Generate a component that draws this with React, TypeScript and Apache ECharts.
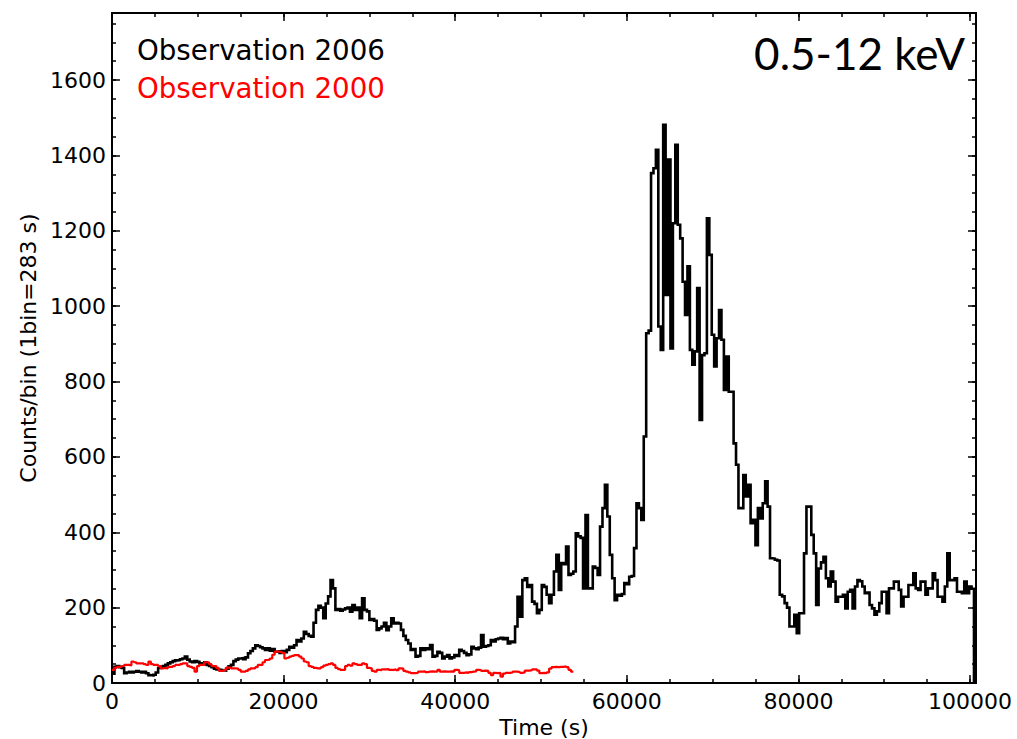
import React, { useEffect, useRef } from "react";
import * as echarts from "echarts";

// Light-curve bin width in seconds
const BIN_SECONDS = 283;

// Counts per bin, observation 2006 (one value per 283 s bin, starting at t = 0)
const obs2006Counts = [
  25, 43, 45, 42, 40, 26, 28, 30, 28, 30,
  32, 30, 28, 30, 26, 21, 20, 22, 28, 40,
  43, 45, 48, 52, 55, 58, 60, 61, 63, 65,
  70, 62, 57, 55, 58, 56, 52, 50, 55, 48,
  45, 42, 38, 36, 35, 34, 33, 38, 44, 48,
  58, 62, 65, 66, 63, 68, 79, 85, 92, 100,
  98, 95, 92, 88, 92, 86, 90, 83, 84, 80,
  85, 82, 88, 96, 94, 100, 114, 110, 118, 136,
  130, 125, 123, 160, 194, 205, 200, 172, 211, 230,
  273, 251, 194, 196, 192, 195, 198, 200, 189, 207,
  194, 200, 172, 225, 194, 190, 167, 170, 165, 141,
  145, 150, 160, 140, 150, 172, 158, 160, 158, 141,
  125, 114, 105, 88, 90, 70, 72, 92, 88, 92,
  90, 101, 70, 72, 83, 80, 65, 70, 74, 65,
  68, 74, 72, 88, 85, 80, 74, 76, 96, 92,
  90, 94, 127, 96, 98, 100, 114, 110, 116, 118,
  120, 116, 119, 105, 110, 108, 150, 229, 176, 273,
  278, 255, 260, 216, 210, 185, 194, 260, 255, 234,
  212, 234, 296, 340, 247, 318, 315, 362, 287, 290,
  296, 397, 389, 385, 251, 446, 251, 251, 309, 305,
  287, 415, 464, 526, 442, 340, 278, 220, 234, 232,
  236, 265, 262, 282, 284, 358, 477, 464, 433, 654,
  928, 935, 1353, 1366, 1415, 946, 884, 1481, 1030, 1389,
  888, 1220, 1428, 1216, 1180, 1065, 977, 1106, 884, 845,
  880, 1048, 698, 870, 875, 1233, 1136, 924, 840, 915,
  990, 911, 778, 866, 773, 773, 636, 579, 464, 464,
  552, 495, 526, 424, 433, 366, 464, 437, 477, 535,
  468, 331, 330, 327, 325, 234, 230, 212, 200, 150,
  150, 181, 132, 185, 185, 344, 468, 468, 393, 344,
  207, 304, 320, 335, 278, 256, 296, 269, 216, 229,
  229, 234, 198, 242, 247, 198, 256, 273, 270, 256,
  238, 240, 207, 198, 181, 190, 212, 242, 242, 185,
  251, 251, 269, 269, 247, 203, 229, 229, 260, 260,
  291, 251, 247, 269, 269, 234, 251, 251, 291, 273,
  229, 229, 216, 256, 344, 273, 273, 278, 242, 242,
  238, 269, 238, 256, 250,
];

// Counts per bin, observation 2000
const obs2000Counts = [
  35, 40, 43, 43, 45, 48, 48, 47, 57, 55,
  52, 52, 52, 50, 48, 57, 50, 48, 48, 45,
  39, 40, 39, 43, 43, 45, 48, 48, 50, 52,
  52, 45, 43, 40, 30, 45, 48, 48, 55, 55,
  50, 45, 45, 40, 32, 32, 35, 41, 41, 39,
  39, 38, 35, 30, 30, 32, 36, 39, 39, 42,
  48, 48, 55, 61, 62, 65, 75, 83, 83, 82,
  80, 65, 67, 70, 72, 74, 74, 70, 65, 57,
  55, 45, 43, 40, 39, 39, 42, 46, 48, 50,
  52, 48, 40, 37, 35, 35, 45, 48, 46, 52,
  50, 48, 48, 52, 50, 40, 39, 32, 30, 35,
  34, 36, 36, 37, 35, 35, 36, 34, 39, 38,
  32, 30, 28, 26, 26, 27, 30, 30, 31, 29,
  30, 31, 30, 30, 35, 30, 31, 30, 30, 31,
  30, 35, 34, 27, 27, 28, 27, 29, 30, 31,
  35, 34, 32, 33, 32, 27, 21, 27, 26, 27,
  17, 25, 27, 27, 28, 30, 30, 29, 27, 28,
  33, 33, 34, 36, 36, 33, 26, 27, 26, 28,
  38, 42, 43, 42, 43, 43, 44, 42, 35, 30,
];

const seriesNames = ["Observation 2006", "Observation 2000"];
const seriesColors = ["#000000", "#ff0000"];
const bandLabel = "0.5-12 keV";

const X_MAX = 100700;
const Y_MAX = 1778;
const X_MAJOR = 20000;
const X_MINOR = 5000;
const Y_MAJOR = 200;
const Y_MINOR = 50;

const FONT = "DejaVu Sans";

// Histogram steps: each value holds from its bin start until the next bin start
function toSteps(counts: number[], dropToZero: boolean): number[][] {
  const pts = counts.map((v, i) => [i * BIN_SECONDS, v]);
  const end = counts.length * BIN_SECONDS;
  pts.push([end, dropToZero ? 0 : counts[counts.length - 1]]);
  return pts;
}

const plainNumber = (v: number) => String(v);

function frameAxis(
  position: string,
  interval: number,
  max: number,
  tickLen: number,
  labelMargin: number | null,
  lineShown: boolean,
  extra: Record<string, unknown> = {}
) {
  return {
    type: "value",
    position,
    min: 0,
    max,
    interval,
    axisLine: { show: lineShown, onZero: false, lineStyle: { color: "#000", width: 2 } },
    axisTick: { show: true, inside: true, length: tickLen, lineStyle: { color: "#000", width: 1.5 } },
    axisLabel:
      labelMargin !== null
        ? {
            show: true,
            color: "#000",
            fontSize: 22,
            fontFamily: FONT,
            margin: labelMargin,
            showMaxLabel: false,
            formatter: plainNumber,
          }
        : { show: false },
    splitLine: { show: false },
    minorTick: { show: false },
    ...extra,
  };
}

export default function App() {
  const ref = useRef<HTMLDivElement>(null);

  useEffect(() => {
    if (!ref.current) return;
    const chart = echarts.init(ref.current, undefined, { renderer: "svg" });

    const option = {
      animation: false,
      backgroundColor: "#ffffff",
      grid: {
        left: 112,
        right: 41,
        top: 13,
        bottom: 56,
        containLabel: false,
        outerBoundsMode: "none",
      },
      xAxis: [
        frameAxis("bottom", X_MAJOR, X_MAX, 8, 7, true, {
          name: "Time (s)",
          nameLocation: "middle",
          nameGap: 31,
          nameTextStyle: { color: "#000", fontSize: 22, fontFamily: FONT },
        }),
        frameAxis("bottom", X_MINOR, X_MAX, 4, null, false),
        frameAxis("top", X_MAJOR, X_MAX, 8, null, true),
        frameAxis("top", X_MINOR, X_MAX, 4, null, false),
      ],
      yAxis: [
        frameAxis("left", Y_MAJOR, Y_MAX, 8, 6, true, {
          name: "Counts/bin (1bin=283 s)",
          nameLocation: "middle",
          nameGap: 69,
          nameTextStyle: { color: "#000", fontSize: 22, fontFamily: FONT },
        }),
        frameAxis("left", Y_MINOR, Y_MAX, 4, null, false),
        frameAxis("right", Y_MAJOR, Y_MAX, 8, null, true),
        frameAxis("right", Y_MINOR, Y_MAX, 4, null, false),
      ],
      series: [
        {
          name: seriesNames[0],
          type: "line",
          xAxisIndex: 0,
          yAxisIndex: 0,
          step: "end",
          symbol: "none",
          data: toSteps(obs2006Counts, true),
          lineStyle: { color: seriesColors[0], width: 2.6, join: "miter" },
          z: 2,
        },
        {
          name: seriesNames[1],
          type: "line",
          xAxisIndex: 0,
          yAxisIndex: 0,
          step: "end",
          symbol: "none",
          data: toSteps(obs2000Counts, false),
          lineStyle: { color: seriesColors[1], width: 2.2 },
          z: 3,
        },
      ],
      graphic: [
        {
          type: "text",
          left: 137,
          top: 36,
          style: { text: seriesNames[0], fill: seriesColors[0], fontSize: 27.7, fontFamily: FONT },
        },
        {
          type: "text",
          left: 137,
          top: 74,
          style: { text: seriesNames[1], fill: seriesColors[1], fontSize: 27.7, fontFamily: FONT },
        },
        {
          type: "text",
          right: 52,
          top: 31,
          style: { text: bandLabel, fill: "#000", fontSize: 44, fontFamily: "Lato" },
        },
      ],
    };

    chart.setOption(option as any);
    return () => chart.dispose();
  }, []);

  return (
    <div
      ref={ref}
      style={{ position: "absolute", left: 0, top: 0, width: 1017, height: 739 }}
    />
  );
}
